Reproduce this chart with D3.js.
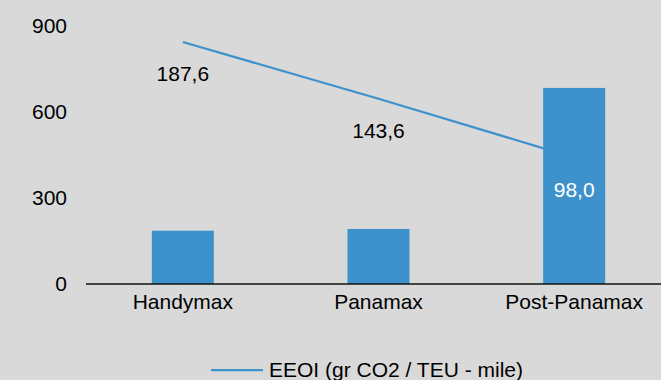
<!DOCTYPE html>
<html>
<head>
<meta charset="utf-8">
<script src="https://cdn.jsdelivr.net/npm/d3@7"></script>
<style>
  body { margin: 0; background: #d9d9d9; }
  text { font-family: "Liberation Sans", Arial, sans-serif; }
</style>
</head>
<body>
<div id="chart"></div>
<script>
// data
const categories = ["Handymax", "Panamax", "Post-Panamax"];
const barValues = [186, 192, 684];          // left axis
const eeoiValues = [187.6, 143.6, 98.0];    // hidden right axis (0-200)
const yTicks = [0, 300, 600, 900];
const lineName = "EEOI (gr CO2 / TEU - mile)";

const W = 661, H = 380;
const blue = "#3e92cc";

const svg = d3.select("#chart")
  .append("svg")
    .attr("width", W)
    .attr("height", H);

svg.append("rect")
  .attr("width", W).attr("height", H)
  .attr("fill", "#d9d9d9");

const x = d3.scaleBand()
  .domain(categories)
  .range([85, 672])
  .paddingInner(0.683)
  .paddingOuter(0.3415);

const y = d3.scaleLinear().domain([0, 900]).range([284, 26]);
const y2 = d3.scaleLinear().domain([0, 200]).range([284, 26]);

// left axis labels, no line, no ticks
const yAxis = svg.append("g")
  .attr("transform", "translate(86,0)")
  .call(d3.axisLeft(y).tickValues(yTicks).tickSize(0).tickPadding(19));
yAxis.select(".domain").remove();
yAxis.selectAll("text")
  .attr("font-size", 21)
  .attr("font-family", "Liberation Sans, Arial, sans-serif")
  .attr("fill", "#000");

// line (sits behind the bars)
const pts = categories.map((c, i) => [x(c) + x.bandwidth() / 2, y2(eeoiValues[i])]);
svg.append("path")
  .datum(pts)
  .attr("fill", "none")
  .attr("stroke", blue)
  .attr("stroke-width", 2.25)
  .attr("d", d3.line());

// bars
svg.selectAll(".bar")
  .data(barValues)
  .join("rect")
    .attr("class", "bar")
    .attr("x", (d, i) => x(categories[i]))
    .attr("width", x.bandwidth())
    .attr("y", d => y(d))
    .attr("height", d => y(0) - y(d))
    .attr("fill", blue);

// category axis
const xAxis = svg.append("g")
  .attr("transform", "translate(0," + y(0) + ")")
  .call(d3.axisBottom(x).tickSize(0).tickPadding(10));
xAxis.select(".domain")
  .attr("d", "M86,0H661")
  .attr("stroke", "#111")
  .attr("stroke-width", 1.5);
xAxis.selectAll("text")
  .attr("font-size", 21)
  .attr("font-family", "Liberation Sans, Arial, sans-serif")
  .attr("fill", "#000");

// line value labels, below the points
svg.selectAll(".lbl")
  .data(eeoiValues)
  .join("text")
    .attr("class", "lbl")
    .attr("x", (d, i) => x(categories[i]) + x.bandwidth() / 2)
    .attr("y", d => y2(d) + 39)
    .attr("text-anchor", "middle")
    .attr("font-size", 21)
    .attr("fill", (d, i) => (y2(d) + 25 > y(barValues[i])) ? "#fff" : "#000")
    .text(d => d.toFixed(1).replace(".", ","));

// legend
svg.append("line")
  .attr("x1", 211).attr("x2", 263)
  .attr("y1", 370).attr("y2", 370)
  .attr("stroke", blue)
  .attr("stroke-width", 2.25);
svg.append("text")
  .attr("x", 269).attr("y", 377)
  .attr("font-size", 21)
  .attr("fill", "#000")
  .text(lineName);
</script>
</body>
</html>
